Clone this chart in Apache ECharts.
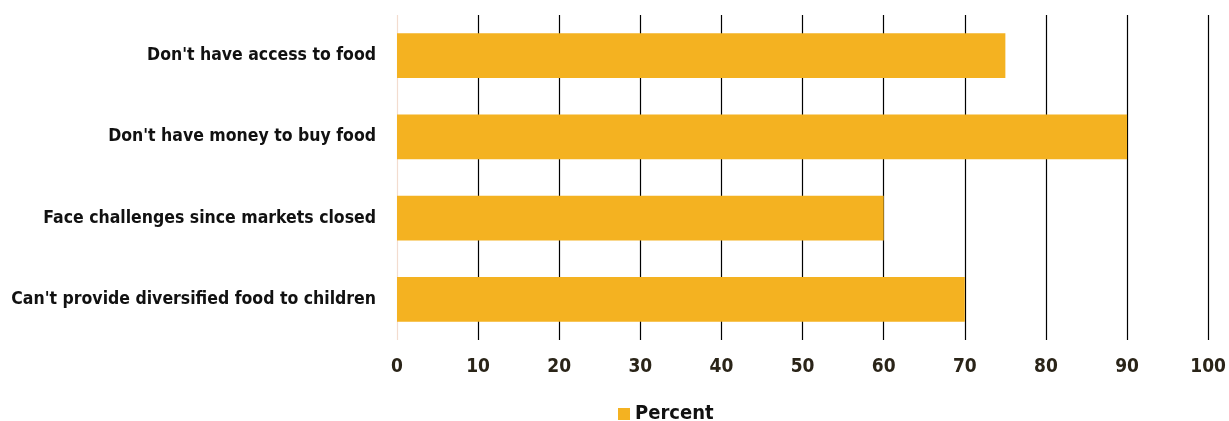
<!DOCTYPE html>
<html><head><meta charset="utf-8">
<script src="https://cdn.jsdelivr.net/npm/echarts@6/dist/echarts.min.js"></script>
<style>html,body{margin:0;padding:0;background:#fff}#c{width:1229px;height:421px}</style>
</head><body><div id="c"></div>
<script>
const categories = ["Don't have access to food","Don't have money to buy food","Face challenges since markets closed","Can't provide diversified food to children"];
const percentValues = [75, 90, 60, 70];
const seriesName = 'Percent';
const font = '"DejaVu Sans Condensed",sans-serif';
const chart = echarts.init(document.getElementById('c'));
const lineColors = ['#f3dccf','#000','#000','#000','#000','#000','#000','#000','#000','#000','#000'];
chart.setOption({
  animation:false,
  grid:{left:397,right:18,top:15,bottom:81},
  legend:{top:399,left:613,itemWidth:12,itemHeight:12,icon:'rect',itemGap:5,
    textStyle:{fontFamily:font,fontWeight:'bold',fontSize:20,color:'#111'}},
  xAxis:{type:'value',min:0,max:100,interval:10,
    axisLine:{show:false},axisTick:{show:false},
    axisLabel:{fontFamily:font,fontWeight:'bold',fontSize:19,color:'#2a2418',margin:18},
    splitLine:{show:true,lineStyle:{color:lineColors,width:1.2}}},
  yAxis:{type:'category',data:categories,inverse:true,
    axisLine:{show:false},axisTick:{show:false},
    axisLabel:{fontFamily:font,fontWeight:'bold',fontSize:17.5,color:'#111',margin:21}},
  series:[{name:seriesName,type:'bar',data:percentValues,barWidth:'55%',
    itemStyle:{color:'#f4b221'}}]
});
</script></body></html>
